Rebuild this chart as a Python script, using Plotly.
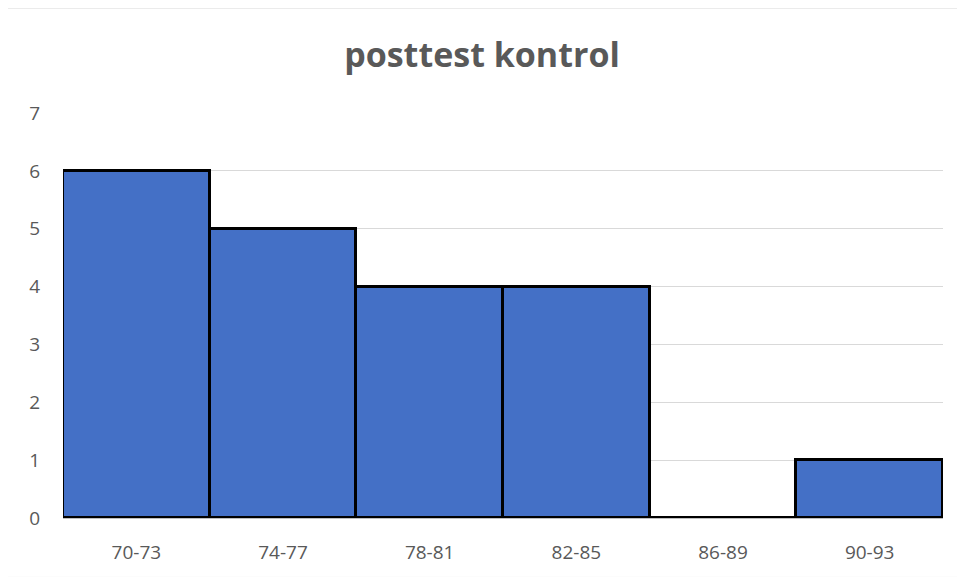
import plotly.graph_objects as go

categories = ["70-73", "74-77", "78-81", "82-85", "86-89", "90-93"]
counts = [6, 5, 4, 4, 0, 1]
y_ticks = [0, 1, 2, 3, 4, 5, 6, 7]
title_text = "posttest kontrol"

OFF = 8  # default page body margin
W, H = 965 - OFF, 577 - OFF
L, R, T, B = 63 - OFF, 22, 113 - OFF, 55
pw, ph = W - L - R, H - T - B

fig = go.Figure()
fig.add_trace(go.Bar(
    x=categories, y=counts,
    marker=dict(color="#4470C6", line=dict(color="#000000", width=3)),
    showlegend=False,
))

fig.update_layout(
    width=W, height=H,
    margin=dict(l=L, r=R, t=T, b=B),
    paper_bgcolor="white", plot_bgcolor="white",
    bargap=0,
    title=dict(text="<b>" + title_text + "</b>", x=(482 - OFF) / W, xanchor="center",
               y=1 - (55 - OFF) / H, yanchor="middle",
               font=dict(family="Open Sans, Liberation Sans, sans-serif", size=34, color="#595959")),
    font=dict(family="Open Sans, Liberation Sans, sans-serif", size=19, color="#595959"),
    xaxis=dict(showgrid=False, showline=True, linecolor="#BFBFBF", linewidth=1,
               ticks="", ticklabelstandoff=17, tickfont=dict(size=19, color="#595959")),
    yaxis=dict(range=[0, 7], tickvals=y_ticks, showgrid=True, gridcolor="#D9D9D9",
               gridwidth=1, zeroline=False, showline=False, ticks="",
               ticklabelstandoff=22, tickfont=dict(size=19, color="#595959")),
    shapes=[dict(type="rect", xref="paper", yref="paper",
                 x0=(6 - OFF - L) / pw, x1=(W + 5 - L) / pw,
                 y0=-(B + 5) / ph, y1=(H - (7 - OFF) - B) / ph,
                 line=dict(color="#D9D9D9", width=1), fillcolor="rgba(0,0,0,0)", layer="below")],
)

fig.write_html("out.html")
